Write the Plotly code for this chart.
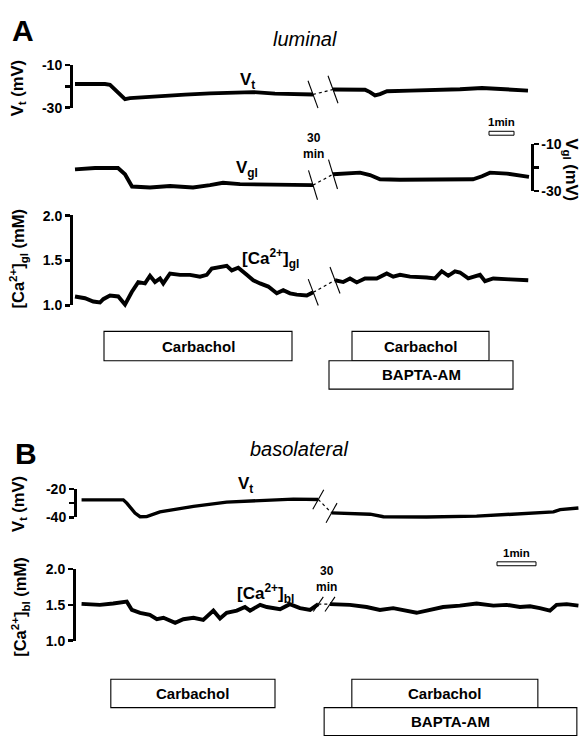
import plotly.graph_objects as go

W, H = 584, 744

# ---------------- DATA ----------------
# Panel A (luminal); time in minutes of displayed record (break = 30 min)
a_vt_pre_t = [0, 0.6, 1.2, 1.4, 1.6, 1.8, 2.0, 2.2, 2.8, 3.4, 4.4, 5.4, 6.4, 7.12, 8.0, 8.8, 9.52]
a_vt_pre_v = [-18.95, -18.86, -18.95, -19.3, -21.4, -24.1, -26.0, -25.5, -25.0, -24.5, -23.9, -23.3, -23.0, -22.7, -23.4, -23.6, -23.8]
a_vt_post_t = [10.32, 11.0, 11.6, 11.8, 12.0, 12.2, 12.48, 13.4, 14.32, 15.4, 16.28, 17.0, 18.12]
a_vt_post_v = [-21.5, -21.4, -21.6, -22.7, -24.2, -23.6, -22.3, -22.0, -21.8, -21.4, -20.8, -21.1, -22.0]

a_vgl_pre_t = [0, 0.8, 1.72, 2.0, 2.28, 3.0, 3.8, 4.72, 5.4, 5.92, 6.6, 7.4, 8.6, 9.52]
a_vgl_pre_v = [-20.8, -20.2, -20.2, -22.9, -28.1, -28.5, -27.9, -28.5, -27.5, -26.5, -27.1, -27.1, -27.3, -27.5]
a_vgl_post_t = [10.32, 10.8, 11.4, 11.8, 12.2, 13.0, 14.6, 15.92, 16.28, 16.6, 17.28, 18.16]
a_vgl_post_v = [-22.9, -22.5, -22.2, -23.2, -25.0, -25.2, -25.2, -25.0, -23.75, -22.2, -22.6, -24.0]

a_ca_pre_t = [0, 0.4, 0.73, 1.0, 1.13, 1.4, 1.73, 2.0, 2.27, 2.53, 2.8, 3.0, 3.2, 3.4, 3.53, 3.8, 4.2, 4.6,
              5.0, 5.27, 5.47, 5.8, 6.07, 6.27, 6.53, 6.87, 7.13, 7.4, 7.73, 8.07, 8.33, 8.6, 8.87, 9.27, 9.53]
a_ca_pre_v = [1.10, 1.08, 1.044, 1.033, 1.07, 1.11, 1.10, 1.01, 1.15, 1.26, 1.245, 1.33, 1.26, 1.30, 1.245, 1.355, 1.34, 1.34,
              1.32, 1.34, 1.41, 1.43, 1.44, 1.39, 1.42, 1.34, 1.28, 1.245, 1.21, 1.135, 1.17, 1.135, 1.12, 1.11, 1.146]
a_ca_post_t = [10.4, 10.73, 11.0, 11.27, 11.6, 12.07, 12.47, 12.73, 13.0, 13.4, 14.07, 14.4, 14.67, 14.93, 15.2,
               15.4, 15.73, 15.93, 16.2, 16.4, 16.73, 17.4, 18.13]
a_ca_post_v = [1.28, 1.26, 1.30, 1.256, 1.30, 1.30, 1.355, 1.32, 1.34, 1.32, 1.31, 1.30, 1.38, 1.33, 1.38,
               1.366, 1.30, 1.32, 1.34, 1.27, 1.30, 1.29, 1.28]

# treatments panel A
a_treat_labels = ["Carbachol", "Carbachol", "BAPTA-AM"]
a_treat_start = [1.16, 11.08, 10.16]
a_treat_end = [8.68, 16.56, 17.52]
a_treat_row = [1, 1, 2]

# Panel B (basolateral)
b_vt_pre_t = [0.04, 1.11, 1.2, 1.28, 1.41, 1.54, 1.71, 2.05, 2.91, 3.76, 4.62, 5.47, 6.11]
b_vt_pre_v = [-27.7, -27.7, -30.0, -32.8, -37.0, -39.6, -39.5, -36.2, -32.3, -29.3, -28.1, -27.2, -27.4]
b_vt_post_t = [6.45, 7.18, 7.44, 7.78, 8.89, 10.17, 11.45, 12.14, 12.31, 12.78]
b_vt_post_v = [-36.9, -37.4, -37.8, -39.6, -39.8, -39.2, -37.4, -36.2, -34.6, -33.4]

b_ca_pre_t = [0.04, 0.51, 0.85, 1.20, 1.33, 1.54, 1.79, 1.97, 2.14, 2.44, 2.65, 2.91, 3.16, 3.42, 3.59, 3.76,
              4.02, 4.23, 4.36, 4.62, 4.79, 5.13, 5.38, 5.64, 5.90, 6.11]
b_ca_pre_v = [1.514, 1.50, 1.52, 1.545, 1.43, 1.39, 1.36, 1.30, 1.32, 1.25, 1.30, 1.32, 1.29, 1.42, 1.31, 1.39,
              1.42, 1.47, 1.42, 1.50, 1.47, 1.44, 1.51, 1.455, 1.43, 1.51]
b_ca_post_t = [6.41, 6.92, 7.35, 7.69, 8.03, 8.63, 8.89, 9.31, 9.74, 10.17, 10.60, 10.94, 11.28, 11.54, 11.79,
               12.05, 12.22, 12.48, 12.78]
b_ca_post_v = [1.51, 1.50, 1.47, 1.43, 1.455, 1.39, 1.42, 1.47, 1.49, 1.52, 1.49, 1.50, 1.47, 1.48, 1.455,
               1.42, 1.50, 1.51, 1.49]

b_treat_labels = ["Carbachol", "Carbachol", "BAPTA-AM"]
b_treat_start = [0.79, 6.97, 6.26]
b_treat_end = [5.0, 11.74, 12.74]
b_treat_row = [1, 1, 2]

vt_ticks = [-30, -10]
vt_minor = [-20]
vt_ticktext = ["-30", "-10"]
vb_ticks = [-40, -20]
vb_minor = [-30]
vb_ticktext = ["-40", "-20"]
ca_ticks = [1.0, 1.5, 2.0]
ca_ticktext = ["1.0", "1.5", "2.0"]

# ---------------- LAYOUT GEOMETRY ----------------
FONT = "Liberation Sans, Arial, Helvetica, sans-serif"

def xcal(px0, ppm):
    return [(0 - px0) / ppm, (W - px0) / ppm], ppm

def ycal(v1, p1, v2, p2):
    k = (v2 - v1) / (p2 - p1)
    return (lambda p: v1 + (p - p1) * k), abs(k)

def ydom(ptop, pbot):
    return [1 - pbot / H, 1 - ptop / H]

xa_range, xa_ppm = xcal(75, 25.0)
xb_range, xb_ppm = xcal(80, 39.0)

cal_avt, k_avt = ycal(-10, 58, -30, 102)
cal_avgl, k_avgl = ycal(-10, 139, -30, 187)
cal_aca, k_aca = ycal(1.0, 304, 1.5, 258)
cal_bvt, k_bvt = ycal(-20, 491.5, -40, 520.5)
cal_bca, k_bca = ycal(1.5, 610, 1.0, 646.7)

data_axes = {
    "yaxis": (cal_avt, 30, 125),
    "yaxis2": (cal_avgl, 118, 210),
    "yaxis3": (cal_aca, 195, 322),
    "yaxis4": (cal_bvt, 468, 548),
    "yaxis5": (cal_bca, 560, 672),
}

layout = dict(
    width=W, height=H, margin=dict(l=0, r=0, t=0, b=0),
    paper_bgcolor="white", plot_bgcolor="rgba(0,0,0,0)", showlegend=False,
    font=dict(family=FONT, color="black"),
    xaxis=dict(domain=[0, 1], range=xa_range, visible=False, anchor="y"),
    xaxis2=dict(domain=[0, 1], range=xb_range, visible=False, anchor="y4"),
)
for name, (cal, ptop, pbot) in data_axes.items():
    layout[name] = dict(domain=ydom(ptop, pbot), range=[cal(pbot), cal(ptop)], visible=False,
                        anchor="x" if name in ("yaxis", "yaxis2", "yaxis3") else "x2")

def bracket(v_lo, v_hi, p_lo, p_hi, xpos, side, tv, tt, minor_vals=None):
    eps = (v_hi - v_lo) * 0.002
    d = dict(domain=ydom(p_hi, p_lo), range=[v_lo - eps, v_hi + eps],
             anchor="free", position=xpos / W, side=side,
             showline=True, linecolor="black", linewidth=2.5,
             ticks="outside", ticklen=5, tickwidth=2.5, tickcolor="black",
             tickmode="array", tickvals=tv, ticktext=["<b>%s</b>" % s for s in tt],
             tickfont=dict(size=14, family=FONT, color="black"),
             showgrid=False, zeroline=False, fixedrange=True)
    if minor_vals:
        d["minor"] = dict(tickmode="array", tickvals=minor_vals, ticks="outside", ticklen=5,
                          tickwidth=2.5, tickcolor="black", showgrid=False)
    return d

layout["yaxis6"] = bracket(-30, -10, 102, 58, 71, "left", vt_ticks, vt_ticktext, vt_minor)
layout["yaxis7"] = bracket(-30, -10, 187, 139, 532, "right", vt_ticks, vt_ticktext, vt_minor)
layout["yaxis8"] = bracket(1.0, 2.0, 304, 212, 71, "left", ca_ticks, ca_ticktext)
layout["yaxis9"] = bracket(-40, -20, 520.5, 491.5, 75, "left", vb_ticks, vb_ticktext, vb_minor)
layout["yaxis10"] = bracket(1.0, 2.0, 646.7, 573.3, 74, "left", ca_ticks, ca_ticktext)

fig = go.Figure(layout=layout)

for ya, xa in (("y6", "x"), ("y7", "x"), ("y8", "x"), ("y9", "x2"), ("y10", "x2")):
    fig.add_trace(go.Scatter(x=[None], y=[None], xaxis=xa, yaxis=ya, hoverinfo="skip"))

LW = 3.9

def add_trace_with_break(t1, v1, t2, v2, xa, ya, ppm, k, direction, hx, hy, lw=LW):
    for tt, vv in ((t1, v1), (t2, v2)):
        fig.add_trace(go.Scatter(x=tt, y=vv, xaxis=xa, yaxis=ya, mode="lines",
                                 line=dict(color="black", width=lw), hoverinfo="skip"))
    fig.add_trace(go.Scatter(x=[t1[-1], t2[0]], y=[v1[-1], v2[0]], xaxis=xa, yaxis=ya, mode="lines",
                             line=dict(color="black", width=1.2, dash="dot"), hoverinfo="skip"))
    dx = hx / ppm
    dy = hy * k
    for (tc, vc) in ((t1[-1], v1[-1]), (t2[0], v2[0])):
        fig.add_trace(go.Scatter(x=[tc - dx, tc + dx], y=[vc - direction * dy, vc + direction * dy],
                                 xaxis=xa, yaxis=ya, mode="lines",
                                 line=dict(color="black", width=1.1), hoverinfo="skip"))

add_trace_with_break(a_vt_pre_t, a_vt_pre_v, a_vt_post_t, a_vt_post_v, "x", "y", xa_ppm, k_avt, -1, 5, 14)
add_trace_with_break(a_vgl_pre_t, a_vgl_pre_v, a_vgl_post_t, a_vgl_post_v, "x", "y2", xa_ppm, k_avgl, -1, 4.5, 15)
add_trace_with_break(a_ca_pre_t, a_ca_pre_v, a_ca_post_t, a_ca_post_v, "x", "y3", xa_ppm, k_aca, -1, 5, 13.5)
add_trace_with_break(b_vt_pre_t, b_vt_pre_v, b_vt_post_t, b_vt_post_v, "x2", "y4", xb_ppm, k_bvt, 1, 5.5, 10, lw=3.4)
add_trace_with_break(b_ca_pre_t, b_ca_pre_v, b_ca_post_t, b_ca_post_v, "x2", "y5", xb_ppm, k_bca, 1, 5, 7.5)

def add_treatments(labels, starts, ends, rows, xref, rowpx):
    for lab, s, e, r in zip(labels, starts, ends, rows):
        top, bot = rowpx[r]
        fig.add_shape(type="rect", xref=xref, yref="paper", x0=s, x1=e, y0=1 - bot / H, y1=1 - top / H,
                      line=dict(color="black", width=1.1), fillcolor="white", layer="above")
        fig.add_annotation(x=(s + e) / 2, y=1 - (top + bot) / 2 / H, xref=xref, yref="paper",
                           text="<b>%s</b>" % lab, showarrow=False, font=dict(size=15, family=FONT),
                           xanchor="center", yanchor="middle")

add_treatments(a_treat_labels, a_treat_start, a_treat_end, a_treat_row, "x", {1: (330.5, 360.5), 2: (360.5, 389.5)})
add_treatments(b_treat_labels, b_treat_start, b_treat_end, b_treat_row, "x2", {1: (686, 715), 2: (715, 743.5)})

def scale_bar(xref, t0, ytop, ybot, ylab):
    fig.add_shape(type="rect", xref=xref, yref="paper", x0=t0, x1=t0 + 1, y0=1 - ybot / H, y1=1 - ytop / H,
                  line=dict(color="black", width=1), fillcolor="white")
    fig.add_annotation(x=t0 + 0.5, y=1 - ylab / H, xref=xref, yref="paper", text="<b>1min</b>",
                       showarrow=False, font=dict(size=11.5, family=FONT), xanchor="center", yanchor="middle")

scale_bar("x", (489 - 75) / 25.0, 126, 130, 117)
scale_bar("x2", (497 - 80) / 39.0, 566, 570, 557)

def ann(x, y, text, size=14, angle=0, italic=False, bold=True):
    t = text
    if bold:
        t = "<b>%s</b>" % t
    if italic:
        t = "<i>%s</i>" % t
    fig.add_annotation(x=x / W, y=1 - y / H, xref="paper", yref="paper", text=t, showarrow=False,
                       textangle=angle, font=dict(size=size, family=FONT), xanchor="center", yanchor="middle")

ann(23, 23, "A", size=30)
ann(305, 32, "luminal", size=20, italic=True, bold=False)
ann(26, 455, "B", size=30)
ann(299, 451, "basolateral", size=20, italic=True, bold=False)

ann(247, 75, "V<sub>t</sub>", size=17)
ann(247, 165, "V<sub>gl</sub>", size=17)
ann(270, 256, "[Ca<sup>2+</sup>]<sub>gl</sub>", size=17)
ann(245, 487, "V<sub>t</sub>", size=17)
ann(265, 598, "[Ca<sup>2+</sup>]<sub>bl</sub>", size=17)

ann(313, 141, "30<br>min", size=12)
ann(326, 584, "30<br>min", size=12)

ann(18, 82, "V<sub>t</sub> (mV)", size=16.5, angle=-90)
ann(19, 256, "[Ca<sup>2+</sup>]<sub>gl</sub> (mM)", size=16.5, angle=-90)
ann(571, 165, "V<sub>gl</sub> (mV)", size=16.5, angle=90)
ann(19, 507, "V<sub>t</sub> (mV)", size=16.5, angle=-90)
ann(20, 612, "[Ca<sup>2+</sup>]<sub>bl</sub> (mM)", size=16.5, angle=-90)

fig.write_html("out.html", config={"displayModeBar": False, "staticPlot": True},
               post_script="document.body.style.margin='0';document.body.style.overflow='hidden';")
